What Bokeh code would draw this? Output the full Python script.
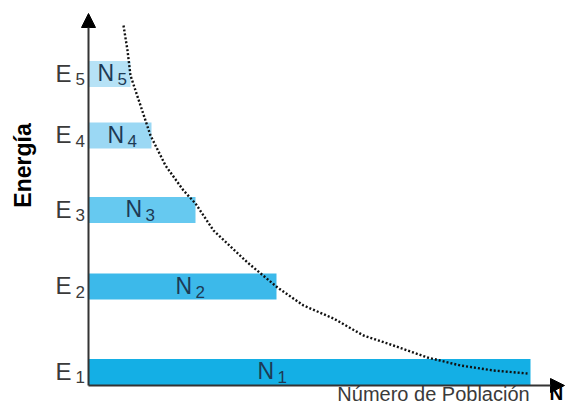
import math
from bokeh.plotting import figure
from bokeh.models import Range1d, ColumnDataSource, Arrow, NormalHead
from bokeh.core.properties import value
from bokeh.embed import file_html
from bokeh.resources import INLINE

# ---- data ----
levels = ["1", "2", "3", "4", "5"]
energy = [12.5, 98, 174.5, 249, 310.5]          # energy of each level
population = [442, 188, 107, 63, 42]             # population of each level
bar_colors = ["#14afe5", "#3cb9ea", "#66c9f0", "#9bd8f4", "#b6e2f6"]

# Boltzmann-like distribution curve
curve_pop = [35, 39, 42, 52, 62, 77, 95, 107, 125, 159, 189, 215, 245, 275, 305, 339, 372, 405, 439]
curve_energy = [359, 334, 309, 279, 249, 219, 194, 181, 154, 122, 97, 79, 66, 49, 39, 27, 19, 14, 11]

x_title = "Número de Población"
x_letter = "N"
y_title = "Energía"

# ---- layout constants ----
label_left = [169, 87, 37, 19, 9]   # left edge of the N_i labels inside bars
TXT = "#3a3a3a"
FONT = value("Liberation Sans")

p = figure(width=565, height=403, output_backend="svg", toolbar_location=None,
           x_range=Range1d(-88, 477), y_range=Range1d(-19, 384),
           min_border=0, min_border_left=0, min_border_right=0,
           min_border_top=0, min_border_bottom=0)
p.axis.visible = False
p.grid.visible = False
p.outline_line_color = None
p.background_fill_color = "white"
p.border_fill_color = "white"

src = ColumnDataSource(dict(
    y=energy, right=population, color=bar_colors,
    lab_x=label_left,
    lab_y=[e + 1 for e in energy],
    sub_y=[e - 5 for e in energy],
    N=["N"] * 5, E=["E"] * 5, sub=levels,
    ex=[-33] * 5,
))

p.hbar(y="y", left=0, right="right", height=26, fill_color="color",
       line_color=None, source=src)

# bar labels N_i
p.text(x="lab_x", y="lab_y", text="N", source=src, text_font=FONT,
       text_font_size="23px", text_color="#1d3a55", text_baseline="alphabetic")
p.text(x="lab_x", y="sub_y", text="sub", source=src, text_font=FONT,
       text_font_size="17px", text_color="#1d3a55", text_baseline="alphabetic",
       x_offset=20)

# energy labels E_i
p.text(x="ex", y="lab_y", text="E", source=src, text_font=FONT,
       text_font_size="24px", text_color=TXT, text_baseline="alphabetic")
p.text(x="ex", y="sub_y", text="sub", source=src, text_font=FONT,
       text_font_size="17px", text_color=TXT, text_baseline="alphabetic",
       x_offset=20)

# distribution curve
p.line(curve_pop, curve_energy, line_color="#111111", line_width=2.4,
       line_dash="2 2")

# axes with arrows
p.add_layout(Arrow(end=NormalHead(size=14, fill_color="black", line_color="black"),
                   x_start=0, y_start=-1, x_end=0, y_end=371,
                   line_color="#333333", line_width=2))
p.add_layout(Arrow(end=NormalHead(size=14, fill_color="black", line_color="black"),
                   x_start=0, y_start=-1, x_end=476, y_end=-1,
                   line_color="#333333", line_width=2))

# titles
p.text(x=[345], y=[-9], text=[x_title], text_font=FONT, text_font_size="20px",
       text_color=TXT, text_align="center", text_baseline="alphabetic")
p.text(x=[461], y=[-9], text=[x_letter], text_font=FONT, text_font_size="19px",
       text_font_style="bold", text_color="black", text_baseline="alphabetic")
p.text(x=[-66], y=[219], text=[y_title], text_font=FONT, text_font_size="23px",
       text_font_style="bold", text_color="black", text_align="center",
       text_baseline="alphabetic", angle=math.pi / 2)

open("out.html", "w").write(file_html(p, INLINE))
